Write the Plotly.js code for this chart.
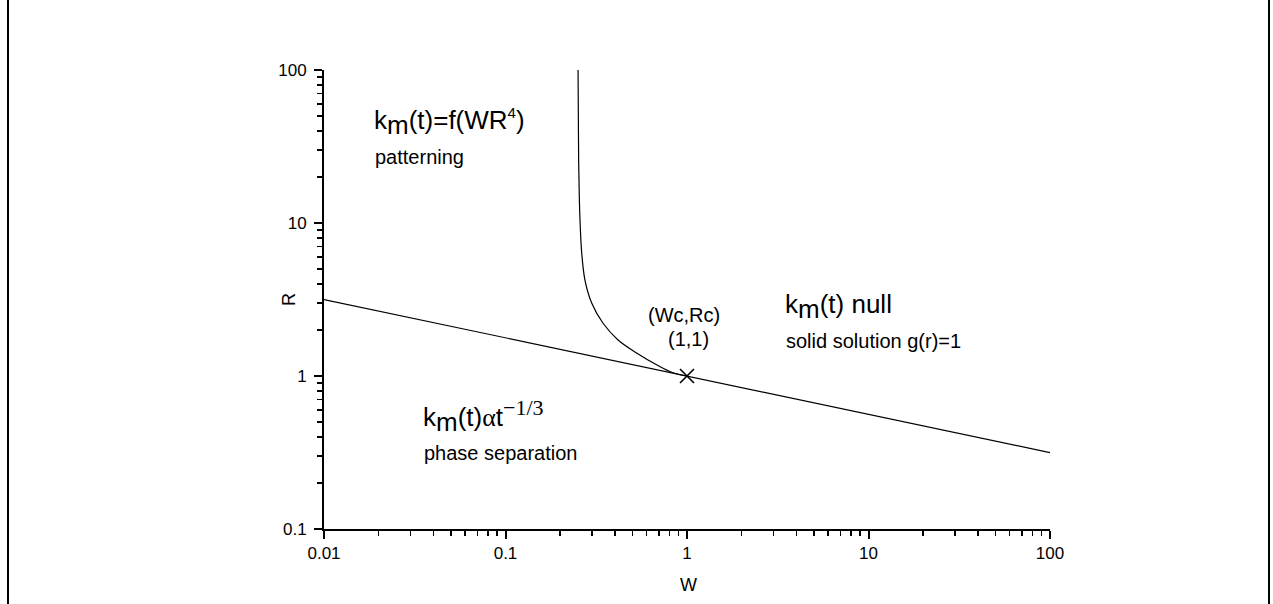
<!DOCTYPE html>
<html>
<head>
<meta charset="utf-8">
<script src="https://cdn.plot.ly/plotly-3.0.1.min.js"></script>
<style>
html,body{margin:0;padding:0;background:#fff;}
#wrap{position:relative;width:1273px;height:604px;}
#chart{width:1273px;height:604px;}
.vline{position:absolute;top:0;height:604px;width:2px;background:#000;}
</style>
</head>
<body>
<div id="wrap">
<div id="chart"></div>
<div class="vline" style="left:7px"></div>
<div class="vline" style="left:1268px"></div>
</div>
<script>
// Phase boundary curve
const curveW = [0.251, 0.252, 0.253, 0.255, 0.2573, 0.263, 0.274, 0.2985, 0.344, 0.417, 0.530, 0.684, 0.837, 1.0];
const curveR = [100, 50, 25, 15, 10.5, 6.37, 4.24, 3.00, 2.22, 1.72, 1.41, 1.18, 1.05, 1.0];
// Straight boundary line
const lineW = [0.01, 1, 100];
const lineR = [3.16, 1, 0.316];
// Critical point
const critW = [1];
const critR = [1];
// Tick labels
const majorTicks = [0.01, 0.1, 1, 10, 100];
const majorTickText = ["0.01", "0.1", "1", "10", "100"];
const yTicks = [0.1, 1, 10, 100];
const yTickText = ["0.1", "1", "10", "100"];
const xTitle = 'W';
const yTitle = 'R';

function minorVals(lo, hi) {
  const out = [];
  for (let d = lo; d < hi; d *= 10) {
    for (let k = 2; k <= 9; k++) out.push(d * k);
  }
  return out;
}

const FONT = "Arial, 'Liberation Sans', sans-serif";

const traces = [
  {x: lineW, y: lineR, mode: 'lines', line: {color: '#000', width: 1.2}, hoverinfo: 'skip'},
  {x: curveW, y: curveR, mode: 'lines', line: {color: '#000', width: 1.2, shape: 'spline', smoothing: 1}, hoverinfo: 'skip'},
  {x: critW, y: critR, mode: 'markers', marker: {symbol: 'x-thin', size: 14, line: {color: '#000', width: 1.6}}, hoverinfo: 'skip'}
];

const BIG = 26, SMALL = 20, TICK = 17;
const big = 'font-size:' + BIG + 'px';
function px2x(px) { return (px - 324) / 726; }
function px2y(py) { return 1 - (py - 70) / 459; }
const layout = {
  width: 1273, height: 604,
  margin: {l: 324, r: 223, t: 70, b: 75},
  paper_bgcolor: '#fff', plot_bgcolor: '#fff',
  showlegend: false,
  font: {family: FONT, size: TICK, color: '#000'},
  xaxis: {
    type: 'log', range: [-2, 2],
    tickvals: majorTicks, ticktext: majorTickText,
    showline: true, linecolor: '#000', linewidth: 2, mirror: false,
    ticks: 'outside', ticklen: 8, tickwidth: 2, tickcolor: '#000',
    showgrid: false, zeroline: false,
    tickfont: {family: FONT, size: TICK, color: '#000'},
    minor: {tickmode: 'array', tickvals: minorVals(0.01, 100), ticks: 'outside', ticklen: 5, tickwidth: 1.5, tickcolor: '#000', showgrid: false}
  },
  yaxis: {
    type: 'log', range: [-1, 2],
    tickvals: yTicks, ticktext: yTickText,
    showline: true, linecolor: '#000', linewidth: 2, mirror: false,
    ticks: 'outside', ticklen: 8, tickwidth: 2, tickcolor: '#000',
    ticklabelstandoff: 4,
    showgrid: false, zeroline: false,
    tickfont: {family: FONT, size: TICK, color: '#000'},
    minor: {tickmode: 'array', tickvals: minorVals(0.1, 100), ticks: 'outside', ticklen: 5, tickwidth: 1.5, tickcolor: '#000', showgrid: false}
  },
  annotations: [
    {xref: 'paper', yref: 'paper', x: px2x(688), y: px2y(585), xanchor: 'center', yanchor: 'middle', showarrow: false,
     text: xTitle, font: {family: FONT, size: 18, color: '#000'}},
    {xref: 'paper', yref: 'paper', x: px2x(289), y: px2y(300), xanchor: 'center', yanchor: 'middle', showarrow: false, textangle: -90,
     text: yTitle, font: {family: FONT, size: 18, color: '#000'}},
    {xref: 'paper', yref: 'paper', x: px2x(372), y: px2y(122), xanchor: 'left', yanchor: 'middle', showarrow: false,
     text: 'k<sub><span style="' + big + '">m</span></sub>(t)=f(WR<sup><span style="font-size:15px">4</span></sup>)', font: {family: FONT, size: BIG, color: '#000'}},
    {xref: 'paper', yref: 'paper', x: px2x(373), y: px2y(157), xanchor: 'left', yanchor: 'middle', showarrow: false,
     text: 'patterning', font: {family: FONT, size: SMALL, color: '#000'}},
    {xref: 'paper', yref: 'paper', x: px2x(684), y: px2y(315), xanchor: 'center', yanchor: 'middle', showarrow: false,
     text: '(Wc,Rc)', font: {family: FONT, size: SMALL, color: '#000'}},
    {xref: 'paper', yref: 'paper', x: px2x(688), y: px2y(339), xanchor: 'center', yanchor: 'middle', showarrow: false,
     text: '(1,1)', font: {family: FONT, size: SMALL, color: '#000'}},
    {xref: 'paper', yref: 'paper', x: px2x(783), y: px2y(306), xanchor: 'left', yanchor: 'middle', showarrow: false,
     text: 'k<sub><span style="' + big + '">m</span></sub>(t) null', font: {family: FONT, size: BIG, color: '#000'}},
    {xref: 'paper', yref: 'paper', x: px2x(784), y: px2y(341), xanchor: 'left', yanchor: 'middle', showarrow: false,
     text: 'solid solution g(r)=1', font: {family: FONT, size: SMALL, color: '#000'}},
    {xref: 'paper', yref: 'paper', x: px2x(421), y: px2y(416), xanchor: 'left', yanchor: 'middle', showarrow: false,
     text: 'k<sub><span style="' + big + '">m</span></sub>(t)<span style="font-family:Liberation Serif">α</span>t<sup><span style="font-family:Liberation Serif;font-size:22px">−1/3</span></sup>', font: {family: FONT, size: BIG, color: '#000'}},
    {xref: 'paper', yref: 'paper', x: px2x(422), y: px2y(453), xanchor: 'left', yanchor: 'middle', showarrow: false,
     text: 'phase separation', font: {family: FONT, size: SMALL, color: '#000'}}
  ]
};

Plotly.newPlot('chart', traces, layout, {staticPlot: true, displayModeBar: false});
</script>
</body>
</html>
